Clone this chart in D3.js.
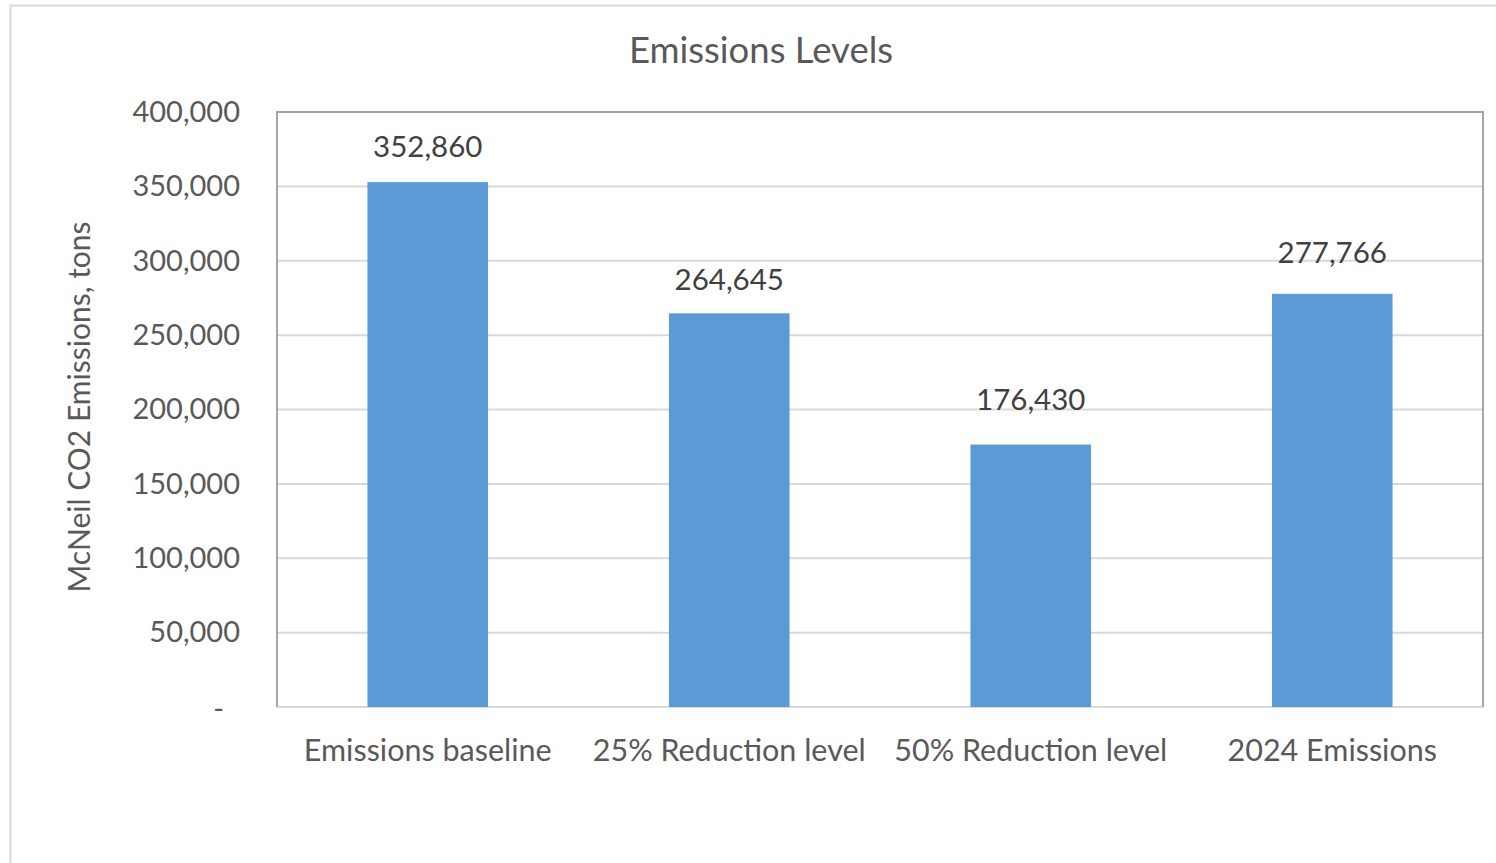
<!DOCTYPE html>
<html>
<head>
<meta charset="utf-8">
<script src="https://cdn.jsdelivr.net/npm/d3@7"></script>
<style>
  html, body { margin: 0; padding: 0; background: #fff; }
  svg { display: block; font-family: Lato, "Open Sans", sans-serif; }
</style>
</head>
<body>
<svg id="chart" width="1496" height="863"></svg>
<script>
// Emissions by scenario (tons of CO2)
const categories = ["Emissions baseline", "25% Reduction level", "50% Reduction level", "2024 Emissions"];
const values = [352860, 264645, 176430, 277766];
const yTicks = [0, 50000, 100000, 150000, 200000, 250000, 300000, 350000, 400000];

const svg = d3.select("#chart");
const textColor = "#595959";

// vertical lift of each data label above its bar (px, label centre)
const labelLift = [35, 34, 45, 41];

// outer chart frame
svg.append("rect")
  .attr("x", 10.5).attr("y", 5.5)
  .attr("width", 1496).attr("height", 870)
  .attr("fill", "#fff")
  .attr("stroke", "#d9d9d9").attr("stroke-width", 2);

const plot = { left: 277, right: 1483, top: 112, bottom: 707 };

const x = d3.scaleBand()
  .domain(categories)
  .range([plot.left, plot.right])
  .paddingInner(0.6)
  .paddingOuter(0.3);

const y = d3.scaleLinear()
  .domain([0, 400000])
  .range([plot.bottom, plot.top]);

const fmt = d3.format(",");

// horizontal gridlines
svg.append("g")
  .selectAll("line")
  .data(yTicks)
  .join("line")
  .attr("x1", plot.left).attr("x2", plot.right)
  .attr("y1", d => y(d)).attr("y2", d => y(d))
  .attr("stroke", "#d9d9d9").attr("stroke-width", 2);

// bars
svg.append("g")
  .selectAll("rect")
  .data(values)
  .join("rect")
  .attr("x", (d, i) => x(categories[i]))
  .attr("y", d => y(d))
  .attr("width", x.bandwidth())
  .attr("height", d => y(0) - y(d))
  .attr("fill", "#5b9bd5");

// plot area border (top, right, left)
svg.append("path")
  .attr("d", `M${plot.left},${plot.bottom} V${plot.top} H${plot.right} V${plot.bottom}`)
  .attr("fill", "none")
  .attr("stroke", "#a6a6a6").attr("stroke-width", 2);

// y axis
const yAxis = d3.axisLeft(y)
  .tickValues(yTicks)
  .tickSize(0)
  .tickPadding(37)
  .tickFormat(d => d === 0 ? "-" : fmt(d));
const gy = svg.append("g")
  .attr("transform", `translate(${plot.left},0)`)
  .call(yAxis);
gy.select(".domain").remove();
gy.selectAll("text")
  .attr("fill", textColor)
  .attr("font-size", 29)
  .attr("font-family", "Lato, sans-serif");
gy.selectAll(".tick").filter(d => d === 0).select("text").attr("dx", -16).attr("dy", "0.4em");

// x axis
const xAxis = d3.axisBottom(x).tickSize(0).tickPadding(32);
const gx = svg.append("g")
  .attr("transform", `translate(0,${plot.bottom})`)
  .call(xAxis);
gx.select(".domain").remove();
gx.selectAll("text")
  .attr("fill", textColor)
  .attr("font-size", 30.5)
  .attr("font-family", "Lato, sans-serif");

// data labels
svg.append("g")
  .selectAll("text")
  .data(values)
  .join("text")
  .attr("x", (d, i) => x(categories[i]) + x.bandwidth() / 2)
  .attr("y", (d, i) => y(d) - labelLift[i])
  .attr("dy", "0.35em")
  .attr("text-anchor", "middle")
  .attr("fill", "#404040")
  .attr("font-size", 29.5)
  .text(d => fmt(d));

// title
svg.append("text")
  .attr("x", 761).attr("y", 63)
  .attr("text-anchor", "middle")
  .attr("fill", textColor)
  .attr("font-size", 36.5)
  .text("Emissions Levels");

// y axis title
svg.append("text")
  .attr("transform", `translate(90,407) rotate(-90)`)
  .attr("text-anchor", "middle")
  .attr("fill", textColor)
  .attr("font-size", 30)
  .text("McNeil CO2 Emissions, tons");
</script>
</body>
</html>
